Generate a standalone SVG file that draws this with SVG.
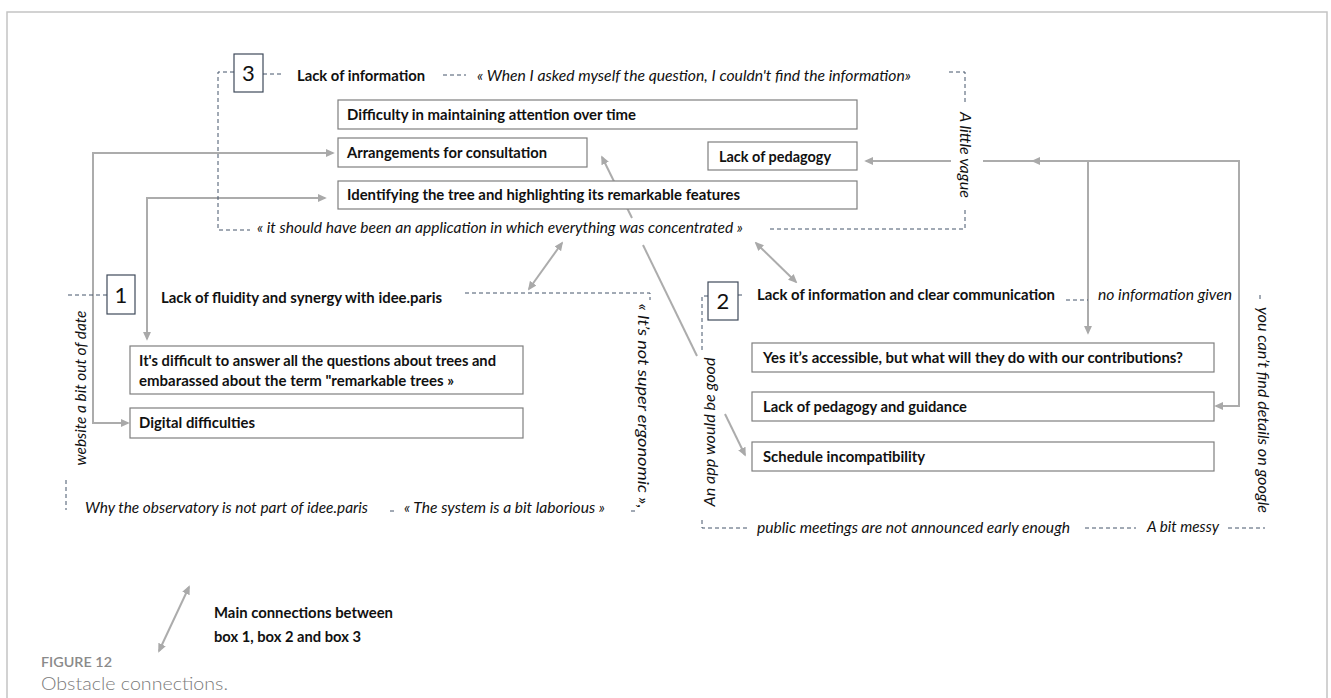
<svg xmlns="http://www.w3.org/2000/svg" width="1331" height="698" viewBox="0 0 1331 698">
<defs>
<marker id="ah" viewBox="0 0 10 10" refX="8" refY="5" markerWidth="4.5" markerHeight="4.5" orient="auto-start-reverse" markerUnits="strokeWidth">
<path d="M0,0.5 L10,5 L0,9.5 z" fill="#a9a9a9"/>
</marker>
<style>
.frame{fill:none;stroke:#c4c4c4;stroke-width:1.5}
.arr{fill:none;stroke:#acacac;stroke-width:2}
.dash{fill:none;stroke:#44546a;stroke-width:1;stroke-dasharray:4 3}
.box{fill:#fff;stroke:#7f7f7f;stroke-width:1.2}
.num{fill:#fff;stroke:#3f4a5a;stroke-width:1.2}
.numt{font-family:Lato,"Liberation Sans",sans-serif;font-size:22px;fill:#111;text-anchor:middle}
.b{font-family:Lato,"Liberation Sans",sans-serif;font-size:14.5px;font-weight:bold;fill:#111}
.i{font-family:Lato,"Liberation Sans",sans-serif;font-size:14.5px;font-style:italic;fill:#111}
.cap1{font-family:Lato,"Open Sans",sans-serif;font-size:13px;font-weight:600;fill:#8a8a8a}
.cap2{font-family:Lato,"Open Sans",sans-serif;font-size:18px;font-weight:300;fill:#7a7a7a}
</style>
</defs>
<path class="frame" d="M7,698 V12 H1327 V698"/>
<g id="connectors">
<path class="arr" d="M333,153 H93 V423 H128" marker-start="url(#ah)" marker-end="url(#ah)"/>
<path class="arr" d="M325,198 H147 V339" marker-start="url(#ah)" marker-end="url(#ah)"/>
<path class="arr" d="M951,161 H866" marker-end="url(#ah)"/>
<path class="arr" d="M983,161 H1239 V406 H1216" marker-end="url(#ah)"/>
<path class="arr" d="M1088,333 V161 H1033" marker-start="url(#ah)" marker-end="url(#ah)"/>
<path class="arr" d="M632,218 L602,157" marker-end="url(#ah)"/>
<path class="arr" d="M643,245 L697,356"/>
<path class="arr" d="M725,414 L745,455" marker-end="url(#ah)"/>
<path class="arr" d="M562,243 L529,289" marker-start="url(#ah)" marker-end="url(#ah)"/>
<path class="arr" d="M756,243 L796,282" marker-start="url(#ah)" marker-end="url(#ah)"/>
<path class="arr" d="M189,587 L159,651" marker-start="url(#ah)" marker-end="url(#ah)"/>
<path class="dash" d="M234,72 H218 V230 H250"/>
<path class="dash" d="M263,74 H284"/>
<path class="dash" d="M443,75 H466"/>
<path class="dash" d="M949,72 H965 V102"/>
<path class="dash" d="M965,210 V229 H768"/>
<path class="dash" d="M68,295 H107"/>
<path class="dash" d="M465,293 H650 V300"/>
<path class="dash" d="M66,480 V510"/>
<path class="dash" d="M390,511 H396"/>
<path class="dash" d="M631,511 H637"/>
<path class="dash" d="M708,296 H702 V352"/>
<path class="dash" d="M738,295 H745"/>
<path class="dash" d="M1066,300 H1088"/>
<path class="dash" d="M702,520 V528 H748"/>
<path class="dash" d="M1085,528 H1136"/>
<path class="dash" d="M1228,528 H1265"/>
<path class="dash" d="M1260,295 V301"/>
</g>
<g id="box3">
<rect class="num" x="234" y="54" width="29" height="38"/>
<text class="numt" x="248.5" y="81">3</text>
<text class="b" x="297" y="81" textLength="128" lengthAdjust="spacingAndGlyphs">Lack of information</text>
<text class="i" x="477" y="81" textLength="434" lengthAdjust="spacingAndGlyphs">«  When I asked myself the question, I couldn't find the information»</text>
<text class="i" transform="translate(965,155) rotate(90)" x="0" y="5" text-anchor="middle" textLength="86" lengthAdjust="spacingAndGlyphs">A little vague</text>
<text class="i" x="257" y="233" textLength="486" lengthAdjust="spacingAndGlyphs">« it should have been an application in which everything was concentrated »</text>
</g>
<g id="n3a"><rect class="box" x="338" y="100" width="519" height="29"/><text class="b" x="347" y="120" textLength="289" lengthAdjust="spacingAndGlyphs">Difficulty in maintaining attention over time</text></g>
<g id="n3b"><rect class="box" x="338" y="138" width="249" height="29"/><text class="b" x="347" y="158" textLength="200" lengthAdjust="spacingAndGlyphs">Arrangements for consultation</text></g>
<g id="n3c"><rect class="box" x="708" y="142" width="149" height="28"/><text class="b" x="719" y="162" textLength="112" lengthAdjust="spacingAndGlyphs">Lack of pedagogy</text></g>
<g id="n3d"><rect class="box" x="338" y="181" width="519" height="28"/><text class="b" x="347" y="200" textLength="393" lengthAdjust="spacingAndGlyphs">Identifying the tree and highlighting its remarkable features</text></g>
<g id="box1">
<rect class="num" x="107" y="275" width="28" height="39"/>
<text class="numt" x="121" y="303">1</text>
<text class="b" x="161" y="303" textLength="281" lengthAdjust="spacingAndGlyphs">Lack of fluidity and synergy with idee.paris</text>
<text class="i" transform="translate(81,388) rotate(-90)" x="0" y="5" text-anchor="middle" textLength="155" lengthAdjust="spacingAndGlyphs">website a bit out of date</text>
<text class="i" transform="translate(643,406) rotate(90)" x="0" y="5" text-anchor="middle" textLength="205" lengthAdjust="spacingAndGlyphs">« It’s not super ergonomic »,</text>
<text class="i" x="85" y="513" textLength="283" lengthAdjust="spacingAndGlyphs">Why the observatory is not part of idee.paris</text>
<text class="i" x="404" y="513" textLength="201" lengthAdjust="spacingAndGlyphs">« The system is a bit laborious »</text>
</g>
<g id="n1a"><rect class="box" x="130" y="346" width="393" height="48"/><text class="b" x="139" y="366" textLength="357" lengthAdjust="spacingAndGlyphs">It's difficult to answer all the questions about trees and</text><text class="b" x="139" y="386" textLength="315" lengthAdjust="spacingAndGlyphs">embarassed about the term "remarkable trees »</text></g>
<g id="n1b"><rect class="box" x="130" y="408" width="393" height="30"/><text class="b" x="139" y="428" textLength="116" lengthAdjust="spacingAndGlyphs">Digital difficulties</text></g>
<g id="box2">
<rect class="num" x="708" y="282" width="30" height="38"/>
<text class="numt" x="723" y="309">2</text>
<text class="b" x="757" y="300" textLength="298" lengthAdjust="spacingAndGlyphs">Lack of information and clear communication</text>
<text class="i" x="1098" y="300" textLength="134" lengthAdjust="spacingAndGlyphs">no information given</text>
<text class="i" transform="translate(710,432) rotate(-90)" x="0" y="5" text-anchor="middle" textLength="149" lengthAdjust="spacingAndGlyphs">An app would be good</text>
<text class="i" transform="translate(1263,410) rotate(90)" x="0" y="5" text-anchor="middle" textLength="206" lengthAdjust="spacingAndGlyphs">you can’t find details on google</text>
<text class="i" x="757" y="533" textLength="313" lengthAdjust="spacingAndGlyphs">public meetings are not announced early enough</text>
<text class="i" x="1147" y="532" textLength="72" lengthAdjust="spacingAndGlyphs">A bit messy</text>
</g>
<g id="n2a"><rect class="box" x="752" y="343" width="462" height="29"/><text class="b" x="763" y="363" textLength="420" lengthAdjust="spacingAndGlyphs">Yes it’s accessible, but what will they do with our contributions?</text></g>
<g id="n2b"><rect class="box" x="752" y="392" width="462" height="29"/><text class="b" x="763" y="412" textLength="204" lengthAdjust="spacingAndGlyphs">Lack of pedagogy and guidance</text></g>
<g id="n2c"><rect class="box" x="752" y="442" width="462" height="29"/><text class="b" x="763" y="462" textLength="162" lengthAdjust="spacingAndGlyphs">Schedule incompatibility</text></g>
<g id="legend">
<text class="b" x="214" y="618" textLength="179" lengthAdjust="spacingAndGlyphs">Main connections between</text>
<text class="b" x="214" y="642" textLength="147" lengthAdjust="spacingAndGlyphs">box 1, box 2 and box 3</text>
</g>
<g id="caption">
<text class="cap1" x="41" y="667" textLength="71" lengthAdjust="spacingAndGlyphs">FIGURE 12</text>
<text class="cap2" x="41" y="690" textLength="187" lengthAdjust="spacingAndGlyphs">Obstacle connections.</text>
</g>
</svg>
